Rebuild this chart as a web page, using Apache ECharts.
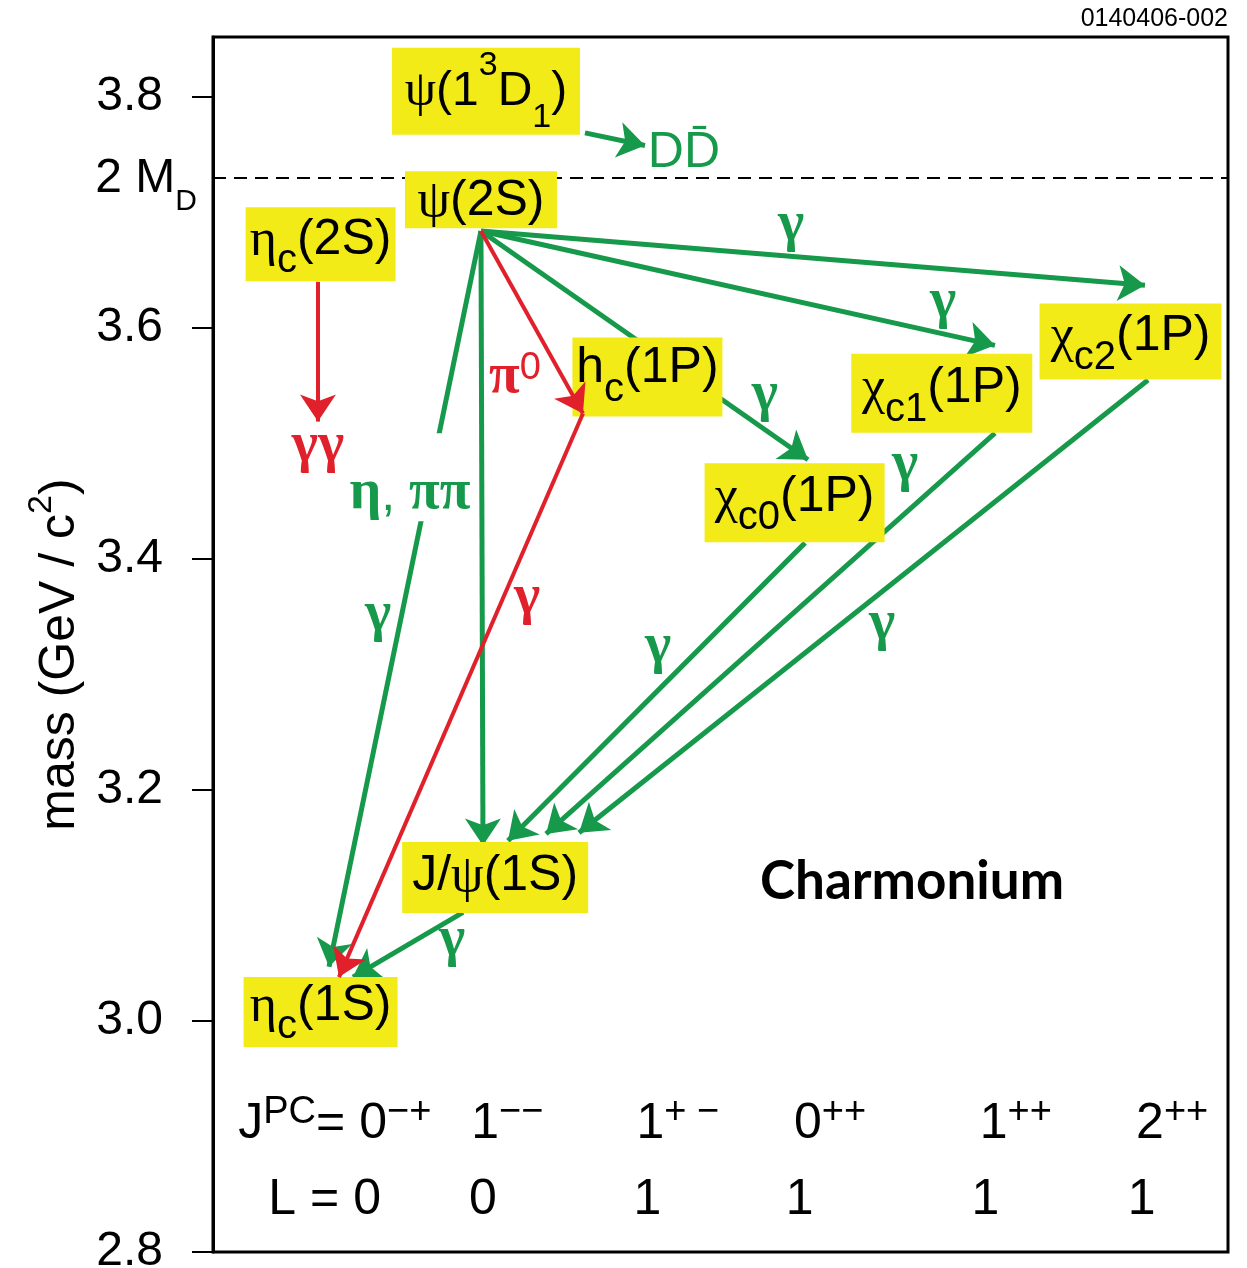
<!DOCTYPE html>
<html><head><meta charset="utf-8">
<script src="https://cdn.jsdelivr.net/npm/echarts@6/dist/echarts.min.js"></script>
<style>html,body{margin:0;padding:0;background:#fff}#c{width:1247px;height:1268px}</style>
</head><body><div id="c"></div>
<script>
// ---------- data ----------
const yTicks = [2.8, 3.0, 3.2, 3.4, 3.6, 3.8];
const thresholdLabel = '2 M_{D}';
const thresholdMass = 3.73;

// charmonium states (x column position in %, mass level in GeV)
const stateNames = ['ψ(1^{3}D_{1})', 'ψ(2S)', 'η_{c}(2S)', 'h_{c}(1P)', 'χ_{c0}(1P)', 'χ_{c1}(1P)', 'χ_{c2}(1P)', 'J/ψ(1S)', 'η_{c}(1S)'];
const stateX    = [26.9, 26.4, 10.6, 42.8, 57.3, 71.8, 90.4, 27.8, 10.6];
const stateMass = [3.767, 3.686, 3.640, 3.523, 3.414, 3.509, 3.555, 3.093, 2.977];

// transitions [x1, m1, x2, m2]
const greenArrows = [
  [36.65, 3.769, 42.56, 3.758],
  [26.40, 3.684, 91.82, 3.637],
  [26.40, 3.684, 77.04, 3.585],
  [26.40, 3.684, 58.62, 3.486],
  [26.40, 3.684, 26.60, 3.152],
  [26.40, 3.684, 11.43, 3.047],
  [24.63, 3.094, 13.79, 3.038],
  [58.33, 3.414, 29.06, 3.156],
  [77.04, 3.509, 32.81, 3.162],
  [92.12, 3.555, 36.06, 3.163]
];
const redArrows = [
  [10.34, 3.640, 10.34, 3.519],
  [26.40, 3.684, 36.45, 3.526],
  [36.45, 3.526, 12.41, 3.038]
];

// text notes [x, m, text]
const greenNotes = [
  [56.95, 3.689, 'γ'], [71.92, 3.6225, 'γ'], [54.38, 3.542, 'γ'], [68.18, 3.481, 'γ'],
  [43.84, 3.323, 'γ'], [65.91, 3.343, 'γ'], [16.26, 3.3515, 'γ'], [23.55, 3.070, 'γ']
];
const greenGapNotes = [[19.41, 3.457, 'η, ππ']];
const ddbarNote = [[46.40, 3.754, 'DD̄']];
const redNotes = [[30.94, 3.366, 'γ'], [29.75, 3.557, 'π^{0}'], [10.34, 3.497, 'γγ']];

const jpcX = [12.0, 29.0, 45.8, 60.8, 79.1, 94.5];
const jpcLabels = ['J^{PC}= 0^{−+}', '1^{−−}', '1^{+ −}', '0^{++}', '1^{++}', '2^{++}'];
const jpcMass = 2.913;
const lX = [11.0, 26.6, 42.8, 57.8, 76.1, 91.5];
const lLabels = ['L = 0', '0', '1', '1', '1', '1'];
const lMass = 2.847;

// ---------- styling ----------
const GREEN = '#16994a', RED = '#e0212b', YELLOW = '#f2eb17';
const SANS = 'Liberation Sans', SERIF = 'Liberation Serif';

function toRich(s, v) {
  v = v || '';
  const out = [];
  const re = /\^\{([^}]*)\}|_\{([^}]*)\}|([\u0370-\u03FF]+)|([^\^_\u0370-\u03FF]+)/g;
  let mt;
  while ((mt = re.exec(s))) {
    if (mt[1] !== undefined) out.push('{sup' + v + '|' + mt[1] + '}');
    else if (mt[2] !== undefined) out.push('{sub' + v + '|' + mt[2] + '}');
    else if (mt[3] !== undefined) out.push('{g' + v + '|' + mt[3] + '}');
    else out.push('{m' + v + '|' + mt[4] + '}');
  }
  return out.join('');
}

// label box layout (style only)
const statePads = [[1,0,0,0],[5,0,4,0],[8,0,0,0],[6,0,7,0],[9,0,4,0],[10,0,3,0],[8,0,2,0],[9,0,14,0],[4,0,0,0]];
const stateWidths = [188, 152, 150, 150, 180, 181, 182, 186, 154];
const stateVariant = ['X','','','','','','','',''];

const stateRich = {
  m:   {fontFamily: SANS, fontSize: 50, color: '#000', verticalAlign: 'top', lineHeight: 48},
  g:   {fontFamily: SERIF, fontSize: 52, color: '#000', verticalAlign: 'top', lineHeight: 48},
  sub: {fontFamily: SANS, fontSize: 40, color: '#000', verticalAlign: 'bottom', lineHeight: 66},
  sup: {fontFamily: SANS, fontSize: 36, color: '#000', verticalAlign: 'top', lineHeight: 36},
  mX:  {fontFamily: SANS, fontSize: 48, color: '#000', verticalAlign: 'middle', lineHeight: 48},
  gX:  {fontFamily: SERIF, fontSize: 50, color: '#000', verticalAlign: 'middle', lineHeight: 48},
  subX:{fontFamily: SANS, fontSize: 34, color: '#000', verticalAlign: 'bottom', lineHeight: 86},
  supX:{fontFamily: SANS, fontSize: 34, color: '#000', verticalAlign: 'top', lineHeight: 34}
};

function noteRich(color, gSize, gBold) {
  return {
    m:   {fontFamily: SANS, fontSize: 50, color: color, verticalAlign: 'bottom', lineHeight: 56},
    g:   {fontFamily: SERIF, fontSize: gSize, fontWeight: gBold ? 'bold' : 'normal', color: color, verticalAlign: 'middle', lineHeight: 56},
    sup: {fontFamily: SANS, fontSize: 38, color: color, verticalAlign: 'top', lineHeight: 38},
    sub: {fontFamily: SANS, fontSize: 36, color: color, verticalAlign: 'bottom', lineHeight: 56}
  };
}

function arrowSeries(arr, color, width, z) {
  return {
    type: 'lines', coordinateSystem: 'cartesian2d', z: z, silent: true,
    symbol: ['none', 'arrow'], symbolSize: [21, 27],
    lineStyle: {color: color, width: width, opacity: 1, curveness: 0},
    data: arr.map(a => ({coords: [[a[0], a[1]], [a[2], a[3]]]}))
  };
}

function noteSeries(arr, color, gSize, gBold, extraLabel) {
  return {
    type: 'scatter', z: 8, silent: true, symbol: 'rect', symbolSize: 1,
    itemStyle: {color: 'rgba(0,0,0,0)', opacity: 1},
    data: arr.map(a => ({value: [a[0], a[1]], name: a[2]})),
    label: Object.assign({
      show: true, position: 'inside', color: color, opacity: 1,
      textBorderWidth: 0,
      formatter: p => toRich(p.name), rich: noteRich(color, gSize, gBold)
    }, extraLabel || {})
  };
}

const option = {
  animation: false,
  title: [
    {text: '0140406-002', right: 19, top: 7, padding: 0,
     textStyle: {fontFamily: SANS, fontSize: 25, fontWeight: 'normal', color: '#000'}},
    {text: 'Charmonium', left: 760, top: 855, padding: 0,
     textStyle: {fontFamily: 'Lato', fontSize: 53, fontWeight: 'bold', color: '#000'}}
  ],
  grid: {left: 213, right: 19, top: 37, bottom: 16, outerBoundsMode: 'none', containLabel: false,
         show: true, borderColor: '#000', borderWidth: 3, backgroundColor: 'transparent'},
  xAxis: {type: 'value', min: 0, max: 100, show: false},
  yAxis: {
    type: 'value', min: 2.8, max: 3.852, interval: 0.2,
    name: toRich('mass (GeV / c^{2})'), nameLocation: 'middle', nameGap: 128,
    nameTextStyle: {fontFamily: SANS, fontSize: 50, color: '#000', padding: [0, 20, 0, 0],
      rich: {m: {fontFamily: SANS, fontSize: 50, color: '#000', verticalAlign: 'bottom', lineHeight: 60},
             sup: {fontFamily: SANS, fontSize: 34, color: '#000', verticalAlign: 'top', lineHeight: 34}}},
    axisLine: {show: true, lineStyle: {color: '#000', width: 3}},
    axisTick: {show: true, length: 21, customValues: yTicks, lineStyle: {color: '#000', width: 2}},
    axisLabel: {customValues: yTicks, margin: 50, fontFamily: SANS, fontSize: 48, color: '#000',
      formatter: v => v.toFixed(1)},
    splitLine: {show: false}
  },
  series: [
    arrowSeries(greenArrows, GREEN, 5, 2),
    {
      type: 'scatter', z: 5, silent: true, symbol: 'rect', symbolSize: 1,
      itemStyle: {color: 'rgba(0,0,0,0)', opacity: 1},
      data: stateNames.map((n, i) => ({
        value: [stateX[i], stateMass[i]], name: n,
        label: {padding: statePads[i], width: stateWidths[i], formatter: toRich(n, stateVariant[i])}
      })),
      label: {show: true, position: 'top', distance: 0, align: 'center', opacity: 1,
              backgroundColor: YELLOW, color: '#000', rich: stateRich},
      markLine: {
        silent: true, symbol: 'none', animation: false,
        data: [{yAxis: thresholdMass}],
        lineStyle: {color: '#000', width: 2, type: [13, 8], opacity: 1},
        label: {show: true, position: 'start', distance: 16, padding: [16, 0, 0, 0], color: '#000',
          formatter: toRich(thresholdLabel),
          rich: {m: {fontFamily: SANS, fontSize: 48, color: '#000', verticalAlign: 'top', lineHeight: 48},
                 sub: {fontFamily: SANS, fontSize: 30, color: '#000', verticalAlign: 'bottom', lineHeight: 62}}}
      }
    },
    arrowSeries(redArrows, RED, 4, 7),
    noteSeries(greenNotes, GREEN, 56, true),
    noteSeries(greenGapNotes, GREEN, 56, true, {backgroundColor: '#fff', padding: [32, 3, 0, 3], offset: [0, -16]}),
    noteSeries(ddbarNote, GREEN, 50, false),
    noteSeries(redNotes, RED, 56, true),
    noteSeries(jpcX.map((x, i) => [x, jpcMass, jpcLabels[i]]), '#000', 50, false),
    noteSeries(lX.map((x, i) => [x, lMass, lLabels[i]]), '#000', 50, false)
  ]
};

const chart = echarts.init(document.getElementById('c'), null, {renderer: 'canvas'});
chart.setOption(option);
</script></body></html>
